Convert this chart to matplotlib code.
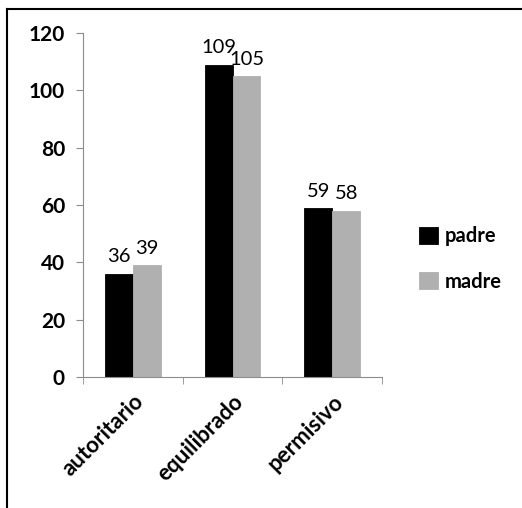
import numpy as np
import matplotlib
matplotlib.use("Agg")
import matplotlib.pyplot as plt
from matplotlib.lines import Line2D

plt.rcParams['font.family'] = ['Lato', 'DejaVu Sans']

categorias = ["autoritario", "equilibrado", "permisivo"]
padre = [36, 109, 59]
madre = [39, 105, 58]
series_names = ["padre", "madre"]
yticks = [0, 20, 40, 60, 80, 100, 120]

fig = plt.figure(figsize=(5.22, 5.08), dpi=100)
ax = fig.add_axes([0.159, 0.258, 0.573, 0.677])

x = np.arange(len(categorias))
w = 0.28
axis_gray = "#8c8c8c"

b1 = ax.bar(x - w / 2, padre, w, color="black", edgecolor="black", linewidth=0.6, label=series_names[0])
b2 = ax.bar(x + w / 2, madre, w, color="#b0b0b0", edgecolor="#b0b0b0", linewidth=0.6, label=series_names[1])

for bars, vals in [(b1, padre), (b2, madre)]:
    for rect, v in zip(bars, vals):
        ax.annotate(str(v), (rect.get_x() + rect.get_width() / 2, v),
                    xytext=(0, 6), textcoords="offset points",
                    ha="center", va="bottom", fontsize=14.5)

ax.set_xlim(-0.5, len(categorias) - 0.5)
ax.set_ylim(0, 120)
ax.set_yticks(yticks)
ax.set_yticklabels([str(t) for t in yticks], fontsize=15, fontweight="bold")

# category labels without tick marks, boundary ticks as minor ticks
ax.set_xticks(x)
ax.set_xticklabels(categorias, rotation=45, ha="right", va="top",
                   rotation_mode="anchor", fontsize=16, fontweight="bold")
ax.tick_params(axis="x", which="major", length=0, pad=10)
ax.set_xticks(np.arange(-0.5, len(categorias), 1.0), minor=True)
ax.tick_params(axis="x", which="minor", length=5, color=axis_gray, direction="out")
ax.tick_params(axis="y", length=5, color=axis_gray, direction="out", pad=8)

for s in ["top", "right"]:
    ax.spines[s].set_visible(False)
for s in ["left", "bottom"]:
    ax.spines[s].set_color(axis_gray)

fig.legend(handles=[b1, b2], labels=series_names, loc="center left",
           bbox_to_anchor=(0.803, 0.49), frameon=False, borderpad=0, borderaxespad=0,
           prop={"weight": "bold", "size": 14.5}, handlelength=0.95, handleheight=0.95,
           handletextpad=0.3, labelspacing=1.25)

# frame lines along the top and left edges
fig.add_artist(Line2D([0.013, 1.0], [0.982, 0.982], color="black", linewidth=1.5, transform=fig.transFigure))
fig.add_artist(Line2D([0.013, 0.013], [0.0, 0.982], color="black", linewidth=1.5, transform=fig.transFigure))

fig.savefig("out.png", dpi=100)
